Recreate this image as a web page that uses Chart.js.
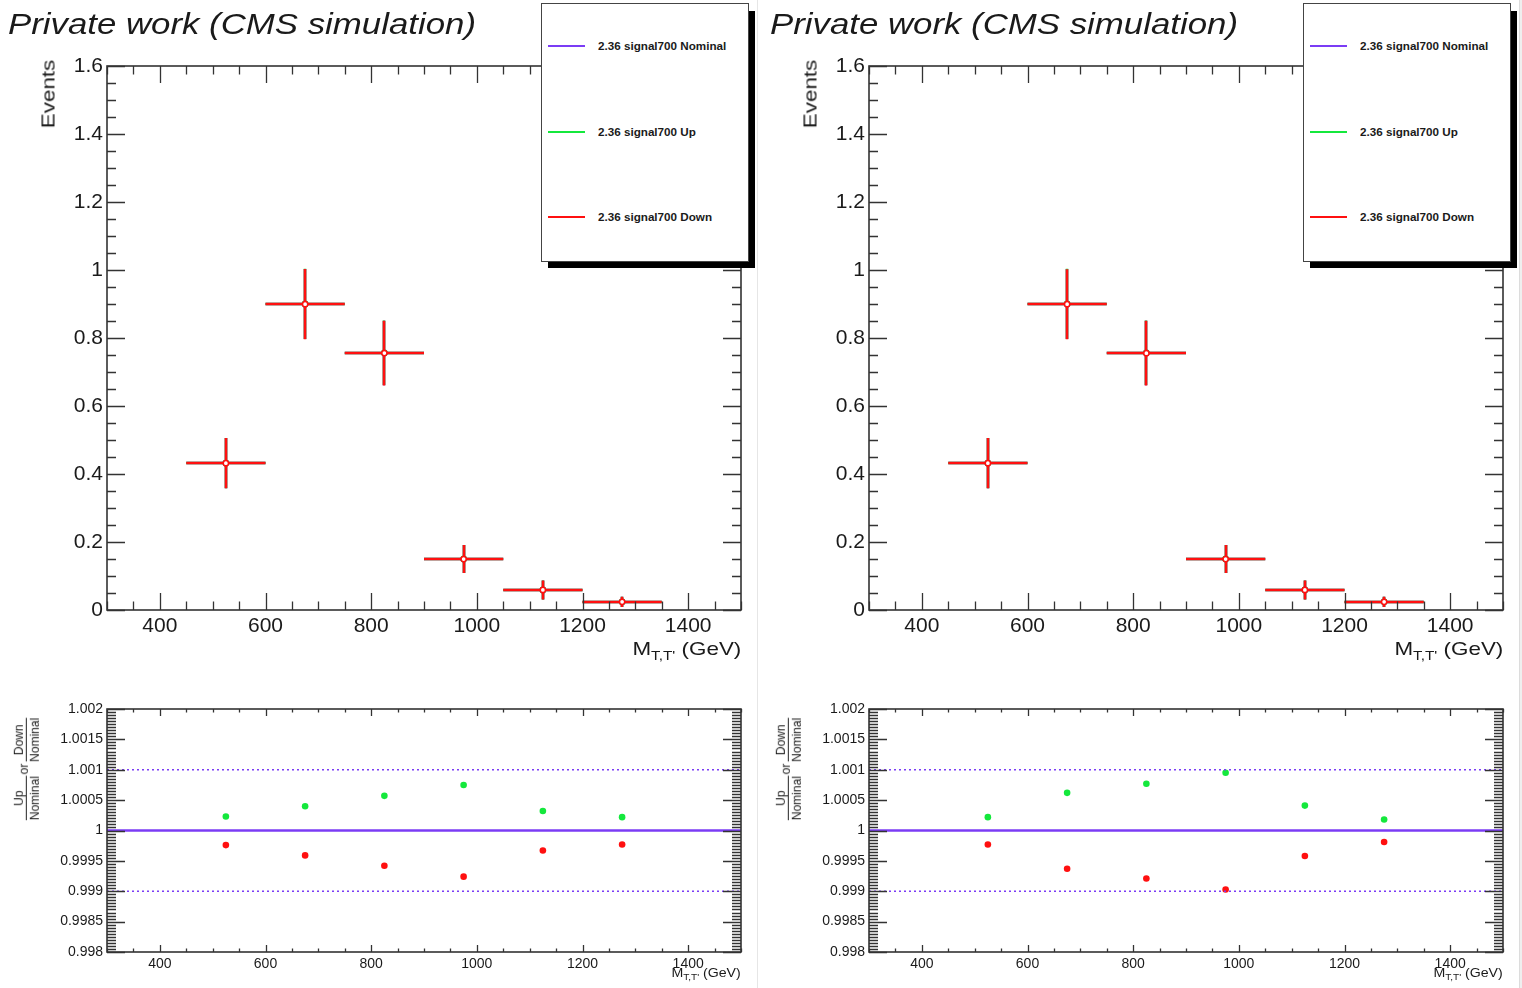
<!DOCTYPE html>
<html>
<head>
<meta charset="utf-8">
<title>signal700 Up/Down variation</title>
<script src="https://cdn.jsdelivr.net/npm/chart.js@4.4.1/dist/chart.umd.min.js"></script>
<style>
  html, body { margin: 0; padding: 0; background: #fff; }
  body { width: 1522px; height: 988px; position: relative; overflow: hidden;
         font-family: "Liberation Sans", Arial, sans-serif; color: #1a1a1a; }
  .panel { position: absolute; top: 0; width: 757px; height: 988px; }
  .panel canvas { position: absolute; left: 0; }
  .title { position: absolute; left: 8px; top: 10px; font-size: 29px; font-style: italic;
           line-height: 1; white-space: nowrap; transform: scaleX(1.2); transform-origin: 0 0; }
  .shadow { position: absolute; left: 548px; top: 11px; width: 207px; height: 257px; background: #000; }
  .legend { position: absolute; left: 541px; top: 3px; width: 208px; height: 259px;
            box-sizing: border-box; border: 1px solid #444; background: #fff; }
  .entry { position: absolute; left: 6px; height: 0; }
  .entry.e0 { top: 42px; } .entry.e1 { top: 128px; } .entry.e2 { top: 213px; }
  .entry i { position: absolute; left: 0; top: -1px; width: 37px; height: 2px; }
  .entry span { position: absolute; left: 50px; top: -6px; font-size: 10.5px; font-weight: bold;
                line-height: 12px; white-space: nowrap; transform: scaleX(1.11); transform-origin: 0 50%; }
  .ytitle { position: absolute; left: 48px; top: 94px; font-size: 19px; line-height: 1; white-space: nowrap;
            transform: translate(-50%, -50%) rotate(-90deg) scaleX(1.18); }
  .xtitle { position: absolute; right: 16px; top: 639px; font-size: 19px; line-height: 1; white-space: nowrap;
            transform: scaleX(1.18); transform-origin: 100% 50%; }
  .xtitle sub { font-size: 13px; vertical-align: baseline; position: relative; top: 5px; }
  .rxtitle { position: absolute; right: 16px; top: 967px; font-size: 12px; line-height: 1; white-space: nowrap;
             transform: scaleX(1.18); transform-origin: 100% 50%; }
  .rxtitle sub { font-size: 8.5px; vertical-align: baseline; position: relative; top: 3px; }
  .rytitle { position: absolute; left: 27px; top: 769px; font-size: 13.5px; line-height: 1.05; white-space: nowrap;
             transform: translate(-50%, -50%) rotate(-90deg) scaleX(0.89); }
  .frac { display: inline-flex; flex-direction: column; align-items: center; vertical-align: middle; }
  .frac .den { border-top: 1.5px solid #222; padding-top: 1px; }
  .or { display: inline-block; margin: 0 2px; position: relative; top: -3px; }
  .sep { position: absolute; top: 0; height: 988px; }
</style>
</head>
<body>
<div class="sep" style="left:757px;width:1px;background:#e6e6e6"></div>
<div class="sep" style="left:1519px;width:3px;background:#efefef;border-left:1px solid #dcdcdc"></div>
<div class="panel" id="left" style="left:0"></div>
<div class="panel" id="right" style="left:762px"></div>

<script>
// binning of M(T,T') in GeV and axis tick values
const binEdges = [450, 600, 750, 900, 1050, 1200, 1350];
const massRange = [300, 1500];
const massTicks = [400, 600, 800, 1000, 1200, 1400];
const eventTicks = [0, 0.2, 0.4, 0.6, 0.8, 1, 1.2, 1.4, 1.6];
const ratioTicks = [0.998, 0.9985, 0.999, 0.9995, 1, 1.0005, 1.001, 1.0015, 1.002];
const ratioGuides = [0.999, 1, 1.001];

// nominal signal700 yield per bin with its stat. error
const nominalEvents = [0.432, 0.900, 0.756, 0.150, 0.059, 0.024];
const eventErrors = [0.074, 0.103, 0.095, 0.041, 0.028, 0.015];

// Up/Nominal and Down/Nominal per bin, first variation
const upRatioLeft = [1.00023, 1.00040, 1.00057, 1.00075, 1.00032, 1.00022];
const downRatioLeft = [0.99976, 0.99959, 0.99942, 0.99924, 0.99967, 0.99977];
// second variation
const upRatioRight = [1.00022, 1.00062, 1.00077, 1.00095, 1.00041, 1.00018];
const downRatioRight = [0.99977, 0.99937, 0.99921, 0.99903, 0.99958, 0.99981];

const legendLabels = ['2.36 signal700 Nominal', '2.36 signal700 Up', '2.36 signal700 Down'];

const NOMINAL = '#7b3cf5';
const UP = '#14e83c';
const DOWN = '#ff1010';
const seriesColors = [NOMINAL, UP, DOWN];
const TEXT = '#1a1a1a';
const FRAME = '#333';
const TICK_FONT = '"Liberation Sans", Arial, sans-serif';

// horizontal bar over the bin width, vertical bar for the error
const errorBars = {
  id: 'errorBars',
  beforeDatasetDraw(chart, args) {
    const ds = chart.data.datasets[args.index];
    if (!ds.errorBars) return;
    const { ctx, scales: { x, y } } = chart;
    ctx.save();
    ctx.strokeStyle = ds.borderColor;
    ctx.lineWidth = 2.6;
    ctx.beginPath();
    ds.data.forEach(p => {
      const px = Math.round(x.getPixelForValue(p.x));
      const py = Math.round(y.getPixelForValue(p.y));
      ctx.moveTo(x.getPixelForValue(p.xMin), py);
      ctx.lineTo(x.getPixelForValue(p.xMax), py);
      ctx.moveTo(px, y.getPixelForValue(p.y - p.yErr));
      ctx.lineTo(px, y.getPixelForValue(p.y + p.yErr));
    });
    ctx.stroke();
    ctx.restore();
  }
};

const isMajor = (v, step) => Math.abs(v / step - Math.round(v / step)) < 1e-4;

// closed frame with inward ticks on all four sides
const rootFrame = {
  id: 'rootFrame',
  afterDraw(chart, args, o) {
    const { ctx, chartArea: a, scales: { x, y } } = chart;
    ctx.save();
    ctx.strokeStyle = FRAME;
    ctx.lineWidth = 1.3;
    ctx.beginPath();
    const nx = Math.round((x.max - x.min) / o.xMinor);
    for (let i = 0; i <= nx; i++) {
      const v = x.min + i * o.xMinor;
      const len = isMajor(v, o.xMajor) ? o.xLen : o.xLen / 2;
      const px = Math.round(x.getPixelForValue(v)) + 0.5;
      ctx.moveTo(px, a.bottom); ctx.lineTo(px, a.bottom - len);
      ctx.moveTo(px, a.top); ctx.lineTo(px, a.top + len);
    }
    const ny = Math.round((y.max - y.min) / o.yMinor);
    for (let i = 0; i <= ny; i++) {
      const v = y.min + i * o.yMinor;
      const len = isMajor(v, o.yMajor) ? o.yLen : o.yLen / 2;
      const py = Math.round(y.getPixelForValue(v)) + 0.5;
      ctx.moveTo(a.left, py); ctx.lineTo(a.left + len, py);
      ctx.moveTo(a.right, py); ctx.lineTo(a.right - len, py);
    }
    ctx.stroke();
    ctx.lineWidth = 1.6;
    ctx.strokeRect(a.left, a.top, a.right - a.left, a.bottom - a.top);
    ctx.restore();
  }
};

function axis(min, max, tickValues, fontSize, fmt, fit) {
  return {
    type: 'linear', min, max,
    grid: { display: false, drawTicks: false },
    border: { display: false },
    afterBuildTicks: s => { s.ticks = tickValues.map(v => ({ value: v })); },
    afterFit: fit,
    ticks: {
      autoSkip: false, maxRotation: 0, padding: 4, color: TEXT,
      font: { family: TICK_FONT, size: fontSize },
      callback: fmt
    }
  };
}

function histPoints(scale) {
  return nominalEvents.map((v, i) => ({
    x: (binEdges[i] + binEdges[i + 1]) / 2,
    y: v * (scale ? scale[i] : 1),
    xMin: binEdges[i], xMax: binEdges[i + 1],
    yErr: eventErrors[i]
  }));
}

function eventsChart(canvas, upRatio, downRatio) {
  const mk = (label, data, color, order) => ({
    label, data, order, errorBars: true,
    borderColor: color, backgroundColor: '#fff',
    pointRadius: 2.6, pointBorderWidth: 1.5, pointBorderColor: color, pointBackgroundColor: '#fff'
  });
  return new Chart(canvas, {
    type: 'scatter',
    data: {
      datasets: [
        mk(legendLabels[0], histPoints(null), NOMINAL, 2),
        mk(legendLabels[1], histPoints(upRatio), UP, 1),
        mk(legendLabels[2], histPoints(downRatio), DOWN, 0)
      ]
    },
    options: {
      responsive: false, animation: false,
      layout: { padding: { left: 0, right: 16, top: 66, bottom: 0 } },
      plugins: {
        legend: { display: false }, tooltip: { enabled: false },
        rootFrame: { xMinor: 50, xMajor: 200, xLen: 17, yMinor: 0.05, yMajor: 0.2, yLen: 18 }
      },
      scales: {
        x: axis(massRange[0], massRange[1], massTicks, 21, v => v, s => { s.height = 70; }),
        y: axis(eventTicks[0], eventTicks[eventTicks.length - 1], eventTicks, 21,
                v => String(+v.toFixed(1)), s => { s.width = 107; })
      }
    },
    plugins: [errorBars, rootFrame]
  });
}

function ratioChart(canvas, upRatio, downRatio) {
  const centers = binEdges.slice(0, -1).map((e, i) => (e + binEdges[i + 1]) / 2);
  const guides = ratioGuides.map(g => ({
    data: [{ x: massRange[0], y: g }, { x: massRange[1], y: g }],
    showLine: true, pointRadius: 0, borderColor: NOMINAL,
    borderWidth: g === 1 ? 2.6 : 1.6,
    borderDash: g === 1 ? [] : [2, 3]
  }));
  const dots = (vals, color) => ({
    data: centers.map((c, i) => ({ x: c, y: vals[i] })),
    pointRadius: 3.3, pointBorderWidth: 0, pointBackgroundColor: color, borderColor: color
  });
  return new Chart(canvas, {
    type: 'scatter',
    data: { datasets: [...guides, dots(upRatio, UP), dots(downRatio, DOWN)] },
    options: {
      responsive: false, animation: false,
      layout: { padding: { left: 0, right: 16, top: 29, bottom: 0 } },
      plugins: {
        legend: { display: false }, tooltip: { enabled: false },
        rootFrame: { xMinor: 50, xMajor: 200, xLen: 7, yMinor: 0.00005, yMajor: 0.0005, yLen: 18 }
      },
      scales: {
        x: axis(massRange[0], massRange[1], massTicks, 14, v => v, s => { s.height = 36; }),
        y: axis(ratioTicks[0], ratioTicks[ratioTicks.length - 1], ratioTicks, 14,
                v => String(+v.toFixed(4)), s => { s.width = 107; })
      }
    },
    plugins: [rootFrame]
  });
}

function buildPanel(id, upRatio, downRatio) {
  const el = document.getElementById(id);
  el.innerHTML = `
    <canvas id="events-${id}" width="757" height="680" style="top:0;width:757px;height:680px"></canvas>
    <canvas id="ratio-${id}" width="757" height="308" style="top:680px;width:757px;height:308px"></canvas>
    <div class="title">Private work (CMS simulation)</div>
    <div class="shadow"></div>
    <div class="legend">${legendLabels.map((l, i) =>
      `<div class="entry e${i}"><i style="background:${seriesColors[i]}"></i><span>${l}</span></div>`).join('')}</div>
    <div class="ytitle">Events</div>
    <div class="xtitle">M<sub>T,T'</sub> (GeV)</div>
    <div class="rytitle"><span class="frac"><span>Up</span><span class="den">Nominal</span></span><span class="or">or</span><span class="frac"><span>Down</span><span class="den">Nominal</span></span></div>
    <div class="rxtitle">M<sub>T,T'</sub> (GeV)</div>`;
  eventsChart(document.getElementById('events-' + id), upRatio, downRatio);
  ratioChart(document.getElementById('ratio-' + id), upRatio, downRatio);
}

buildPanel('left', upRatioLeft, downRatioLeft);
buildPanel('right', upRatioRight, downRatioRight);
</script>
</body>
</html>
